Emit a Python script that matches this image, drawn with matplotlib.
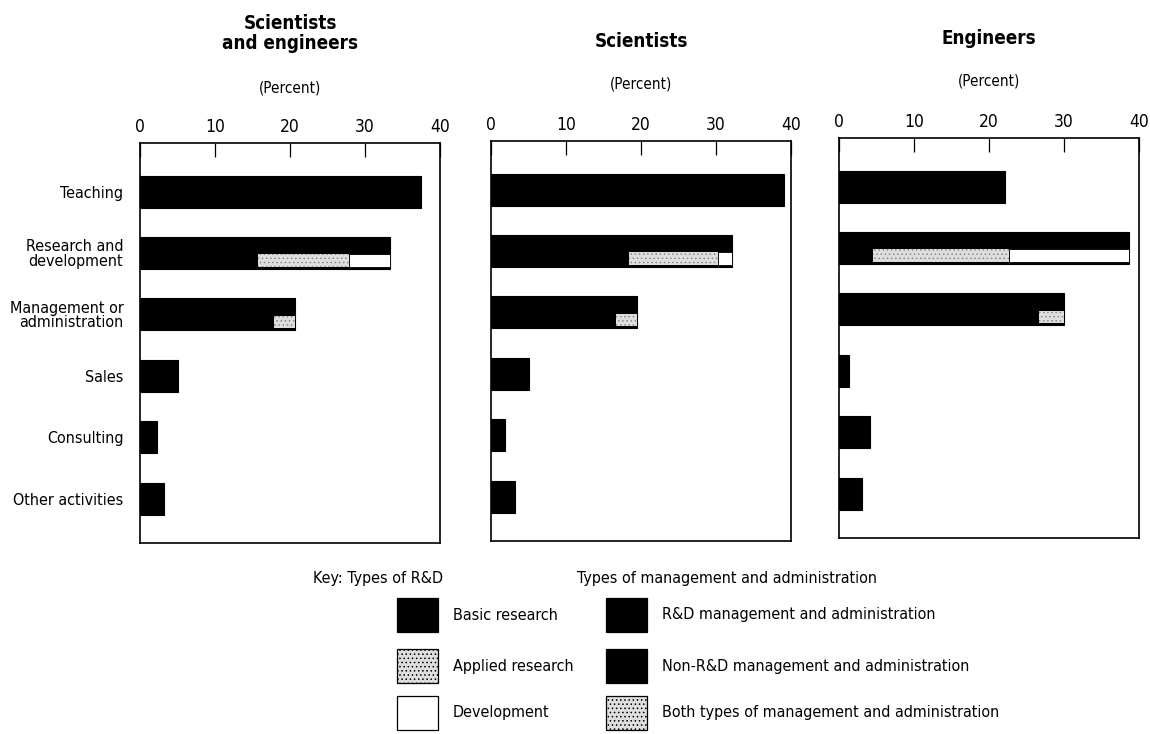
import os
import matplotlib
matplotlib.use("Agg")
import matplotlib.pyplot as plt
from matplotlib import font_manager
from matplotlib.patches import Rectangle

# condensed face if one is installed, otherwise a narrow-ish sans
cond = [f for f in font_manager.fontManager.ttflist
        if os.path.basename(f.fname).startswith("DejaVuSansCondensed")]
if cond:
    plt.rcParams["font.family"] = [cond[0].name, "DejaVu Sans"]
    plt.rcParams["font.stretch"] = "condensed"
else:
    plt.rcParams["font.family"] = ["Liberation Sans", "DejaVu Sans"]
plt.rcParams["hatch.linewidth"] = 0.6

# data (percent)
categories = ["Teaching", "Research and\ndevelopment", "Management or\nadministration",
              "Sales", "Consulting", "Other activities"]
panel_titles = ["Scientists\nand engineers", "Scientists", "Engineers"]

totals_all = [37.4, 33.3, 20.6, 5.1, 2.2, 3.2]
totals_sci = [39.0, 32.1, 19.4, 5.1, 1.9, 3.2]
totals_eng = [22.1, 38.7, 30.0, 1.3, 4.1, 3.0]

# R&D split: basic, applied, development
rd_all = [15.7, 12.1, 5.5]
rd_sci = [18.4, 11.9, 1.8]
rd_eng = [4.5, 18.2, 16.0]

# management split: one type (R&D or non-R&D), both types
mg_all = [17.9, 2.7]
mg_sci = [16.6, 2.8]
mg_eng = [26.7, 3.3]

x_ticks = [0, 10, 20, 30, 40]

panels = [
    (totals_all, rd_all, mg_all),
    (totals_sci, rd_sci, mg_sci),
    (totals_eng, rd_eng, mg_eng),
]

GRAY = "#dedede"
W, H = 1150, 734
fig = plt.figure(figsize=(W / 100, H / 100), dpi=100)


def fx(px):
    return px / W


def fy(py):
    return 1 - py / H


# the scan is slightly tilted, so each panel sits a little differently
lefts = [140, 491, 839]
tops = [143, 141, 138]
bots = [543, 541, 538]
width = 300
title_y = [53, 51, 48]
pct_y = [88, 84, 81]
bar_h = 0.52

for i, (totals, rd, mg) in enumerate(panels):
    ax = fig.add_axes([fx(lefts[i]), fy(bots[i]), width / W, (bots[i] - tops[i]) / H])
    y = list(range(len(categories)))
    ax.barh(y, totals, height=bar_h, color="black", edgecolor="black", linewidth=0.8)

    # inner stripes sit in the lower half of the bar
    sh = 0.20
    sy = 1 + 0.12
    ax.barh(sy, rd[1], left=rd[0], height=sh, color=GRAY, edgecolor="#8a8a8a",
            hatch="....", linewidth=0)
    ax.barh(sy, rd[2], left=rd[0] + rd[1], height=sh, color="white",
            edgecolor="black", linewidth=0.6)
    my = 2 + 0.12
    ax.barh(my, mg[1], left=mg[0], height=sh, color=GRAY, edgecolor="#8a8a8a",
            hatch="....", linewidth=0)

    ax.set_xlim(0, 40)
    ax.set_ylim(5.72, -0.79)
    ax.xaxis.tick_top()
    ax.set_xticks(x_ticks)
    ax.set_xticklabels([str(t) for t in x_ticks], fontsize=12.5)
    ax.tick_params(axis="x", direction="in", length=10, width=0.9, pad=5,
                   top=True, bottom=False)
    ax.tick_params(axis="y", length=0)
    for s in ax.spines.values():
        s.set_linewidth(1.2)
    if i == 0:
        ax.set_yticks(y)
        ax.set_yticklabels(categories, fontsize=11.5, linespacing=0.95)
        ax.tick_params(axis="y", pad=12)
    else:
        ax.set_yticks([])

    cx = fx(lefts[i] + width / 2)
    fig.text(cx, fy(title_y[i]), panel_titles[i], ha="center", va="bottom",
             fontsize=13.5, fontweight="bold", linespacing=1.05)
    fig.text(cx, fy(pct_y[i]), "(Percent)", ha="center", va="center", fontsize=11)

# key
fig.text(fx(313), fy(578), "Key: Types of R&D", ha="left", va="center", fontsize=11.5)
fig.text(fx(577), fy(578), "Types of management and administration", ha="left",
         va="center", fontsize=11.5)

key_left = [
    ("Basic research", "black", None),
    ("Applied research", GRAY, "...."),
    ("Development", "white", None),
]
key_right = [
    ("R&D management and administration", "black", None),
    ("Non-R&D management and administration", "black", None),
    ("Both types of management and administration", GRAY, "...."),
]
rows_y = [615, 666, 713]
for col_x, items in [(397, key_left), (606, key_right)]:
    for (label, color, hatch), ry in zip(items, rows_y):
        r = Rectangle((fx(col_x), fy(ry + 17)), 41 / W, 34 / H, transform=fig.transFigure,
                      facecolor=color, edgecolor="black", linewidth=0.9, hatch=hatch)
        fig.add_artist(r)
        fig.text(fx(col_x + 56), fy(ry), label, ha="left", va="center", fontsize=11.5)

fig.savefig("out.png", dpi=100)
